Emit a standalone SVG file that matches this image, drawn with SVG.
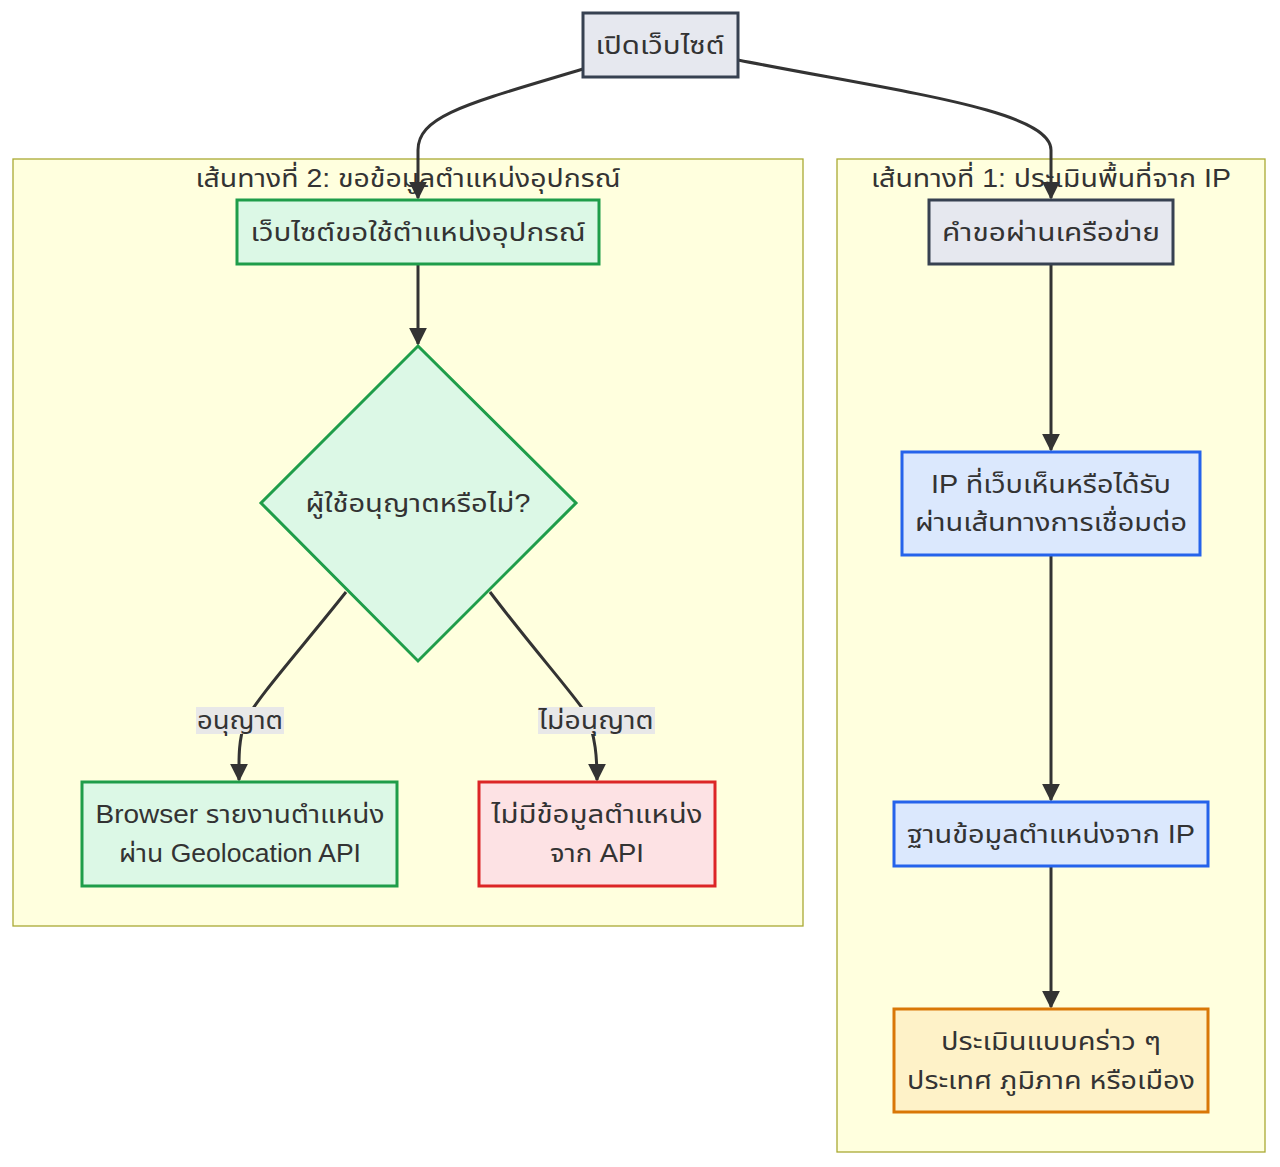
<svg xmlns="http://www.w3.org/2000/svg" width="1280" height="1167" viewBox="0 0 1280 1167">
<style>
text{font-family:"Liberation Sans","Noto Sans Thai","Noto Sans",sans-serif;font-size:25px;fill:#333;text-anchor:middle;dominant-baseline:central}
.cl{fill:#ffffde;stroke:#aaaa33;stroke-width:1.3}
.gray{fill:#e6e8ef;stroke:#374151;stroke-width:3}
.green{fill:#dcf8e6;stroke:#1f9d4a;stroke-width:3}
.red{fill:#fde2e4;stroke:#dc2626;stroke-width:3}
.blue{fill:#dbe8fd;stroke:#2563eb;stroke-width:3}
.orange{fill:#fef2c8;stroke:#d97706;stroke-width:3}
.e{fill:none;stroke:#333;stroke-width:3;marker-end:url(#ah)}
.lb{fill:#e8e8e8}
</style>
<defs>
<marker id="ah" viewBox="0 0 10 10" refX="9" refY="5" markerWidth="6" markerHeight="6" markerUnits="strokeWidth" orient="auto">
<path d="M0,0 L10,5 L0,10 z" fill="#333"/>
</marker>
</defs>
<rect width="1280" height="1167" fill="#ffffff"/>
<g id="cluster-2">
<rect class="cl" x="13" y="159" width="790" height="767"/>
<text x="408" y="178" textLength="425" lengthAdjust="spacingAndGlyphs">เส้นทางที่ 2: ขอข้อมูลตำแหน่งอุปกรณ์</text>
</g>
<g id="cluster-1">
<rect class="cl" x="837" y="159" width="428" height="993"/>
<text x="1051" y="178" textLength="360" lengthAdjust="spacingAndGlyphs">เส้นทางที่ 1: ประเมินพื้นที่จาก IP</text>
</g>
<g id="edges">
<path class="e" d="M583,69 C470,103 418,115 418,150 L418,198"/>
<path class="e" d="M738,60 C900,92 1051,110 1051,150 L1051,198"/>
<path class="e" d="M418,264 L418,344"/>
<path class="e" d="M346,592 C300,650 255,700 245,722 C238,742 239,760 239,780"/>
<path class="e" d="M490,592 C530,645 570,690 585,712 C596,735 597,760 597,780"/>
<path class="e" d="M1051,264 L1051,450"/>
<path class="e" d="M1051,555 L1051,800"/>
<path class="e" d="M1051,866 L1051,1007"/>
<g id="label-allow">
<rect class="lb" x="196" y="707" width="88" height="27"/>
<text x="240" y="720" textLength="86" lengthAdjust="spacingAndGlyphs">อนุญาต</text>
</g>
<g id="label-deny">
<rect class="lb" x="538" y="707" width="117" height="27"/>
<text x="596" y="720" textLength="115" lengthAdjust="spacingAndGlyphs">ไม่อนุญาต</text>
</g>
</g>
<g id="open-site">
<rect class="gray" x="583" y="13" width="155" height="64"/>
<text x="660" y="45" textLength="129" lengthAdjust="spacingAndGlyphs">เปิดเว็บไซต์</text>
</g>
<g id="request-location">
<rect class="green" x="237" y="200" width="362" height="64"/>
<text x="418" y="232" textLength="335" lengthAdjust="spacingAndGlyphs">เว็บไซต์ขอใช้ตำแหน่งอุปกรณ์</text>
</g>
<g id="decision">
<polygon class="green" points="418,346 576,503 418,661 261,503"/>
<text x="418" y="503" textLength="225" lengthAdjust="spacingAndGlyphs">ผู้ใช้อนุญาตหรือไม่?</text>
</g>
<g id="browser-report">
<rect class="green" x="82" y="782" width="315" height="104"/>
<text x="240" y="814" textLength="289" lengthAdjust="spacingAndGlyphs">Browser รายงานตำแหน่ง</text>
<text x="240" y="853" textLength="242" lengthAdjust="spacingAndGlyphs">ผ่าน Geolocation API</text>
</g>
<g id="no-data">
<rect class="red" x="479" y="782" width="236" height="104"/>
<text x="597" y="814" textLength="211" lengthAdjust="spacingAndGlyphs">ไม่มีข้อมูลตำแหน่ง</text>
<text x="597" y="853" textLength="94" lengthAdjust="spacingAndGlyphs">จาก API</text>
</g>
<g id="network-request">
<rect class="gray" x="929" y="200" width="244" height="64"/>
<text x="1051" y="232" textLength="218" lengthAdjust="spacingAndGlyphs">คำขอผ่านเครือข่าย</text>
</g>
<g id="ip-seen">
<rect class="blue" x="902" y="452" width="298" height="103"/>
<text x="1051" y="484" textLength="240" lengthAdjust="spacingAndGlyphs">IP ที่เว็บเห็นหรือได้รับ</text>
<text x="1051" y="522" textLength="272" lengthAdjust="spacingAndGlyphs">ผ่านเส้นทางการเชื่อมต่อ</text>
</g>
<g id="ip-db">
<rect class="blue" x="894" y="802" width="314" height="64"/>
<text x="1051" y="834" textLength="288" lengthAdjust="spacingAndGlyphs">ฐานข้อมูลตำแหน่งจาก IP</text>
</g>
<g id="estimate">
<rect class="orange" x="894" y="1009" width="314" height="103"/>
<text x="1051" y="1041" textLength="220" lengthAdjust="spacingAndGlyphs">ประเมินแบบคร่าว ๆ</text>
<text x="1051" y="1080" textLength="288" lengthAdjust="spacingAndGlyphs">ประเทศ ภูมิภาค หรือเมือง</text>
</g>
</svg>
